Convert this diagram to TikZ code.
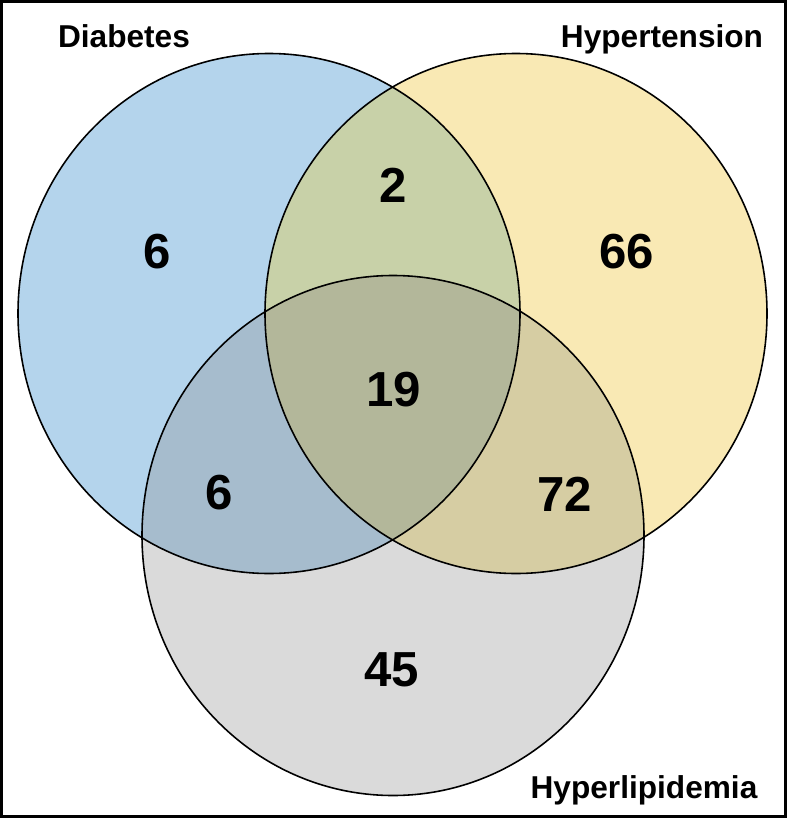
\documentclass[tikz,border=0pt]{standalone}
\usepackage{fontspec}
\setmainfont{Liberation Sans}
\usepackage{tikz}

\definecolor{diabC}{HTML}{B4D4EC}
\definecolor{hyptC}{HTML}{F9E9B4}
\definecolor{lipC}{HTML}{DADADA}
\definecolor{diabhyptC}{HTML}{C8D1A8}
\definecolor{diablipC}{HTML}{A6BCCD}
\definecolor{hyptlipC}{HTML}{D6CDA3}
\definecolor{allC}{HTML}{B3B79A}

\newcommand{\diabset}{(269,313.5) ellipse [x radius=251, y radius=260]}
\newcommand{\hyptset}{(516,313.5) ellipse [x radius=251, y radius=260]}
\newcommand{\lipset}{(393,535.5) ellipse [x radius=251, y radius=260]}

\begin{document}
\begin{tikzpicture}[x=0.02cm, y=-0.02cm,
  setname/.style={font=\fontsize{18}{18}\selectfont\bfseries, anchor=base, inner sep=0pt},
  count/.style={font=\fontsize{28}{28}\selectfont\bfseries, inner sep=0pt}]
  \useasboundingbox (0,0) rectangle (787,818);
  % plain fills
  \fill[diabC] \diabset;
  \fill[hyptC] \hyptset;
  \fill[lipC] \lipset;
  % overlaps
  \begin{scope}
    \clip \hyptset;
    \fill[hyptlipC] \lipset;
  \end{scope}
  \begin{scope}
    \clip \diabset;
    \fill[diabhyptC] \hyptset;
    \fill[diablipC] \lipset;
    \clip \hyptset;
    \fill[allC] \lipset;
  \end{scope}
  % outlines
  \draw[line width=0.9pt] \diabset;
  \draw[line width=0.9pt] \hyptset;
  \draw[line width=0.9pt] \lipset;
  \draw[line width=0.05cm] (1.5,1.5) rectangle (785.5,816.5);
  % set names
  \node[setname] (diab) at (124,47) {Diabetes};
  \node[setname] (hypt) at (662,47) {Hypertension};
  \node[setname] (lip) at (644,798) {Hyperlipidemia};
  % counts
  \node[count] (nD) at (157,252) {6};
  \node[count] (nDH) at (393,185) {2};
  \node[count] (nH) at (627,252) {66};
  \node[count] (nDHL) at (394,390) {19};
  \node[count] (nDL) at (219,493) {6};
  \node[count] (nHL) at (565,494) {72};
  \node[count] (nL) at (392,670) {45};
\end{tikzpicture}
\end{document}
